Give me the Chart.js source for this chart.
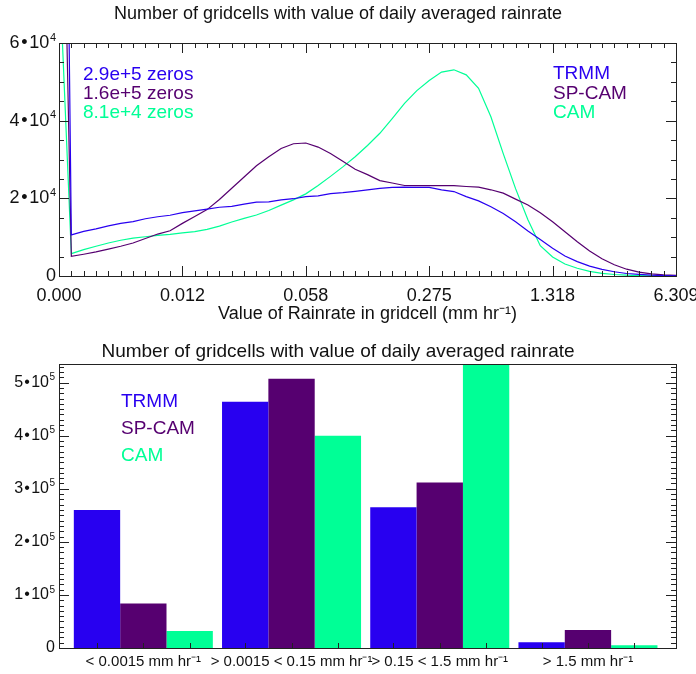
<!DOCTYPE html>
<html>
<head>
<meta charset="utf-8">
<title>Rainrate histograms</title>
<script src="https://cdn.jsdelivr.net/npm/chart.js@4.4.1/dist/chart.umd.min.js"></script>
<style>
  html, body { margin: 0; padding: 0; background: #fff; }
  #wrap { position: relative; width: 696px; height: 674px; }
  canvas { position: absolute; left: 0; }
  #histo { top: 0; }
  #bins { top: 330px; }
</style>
</head>
<body>
<div id="wrap">
  <canvas id="histo" width="696" height="330"></canvas>
  <canvas id="bins" width="696" height="344"></canvas>
</div>
<script>
// x tick labels of the histogram (log spaced bin edges, every 10th bin)
const binTickLabels = ['0.000', '0.012', '0.058', '0.275', '1.318', '6.309'];

// counts per bin; bin 0 holds the zero-rain cells
const trmmCurve = [290000,
  10600, 11500, 12150, 12900, 13550, 14000, 14750, 15250, 15650, 16300,
  16750, 17200, 17700, 17950, 18500, 19000, 19100, 19600, 19900, 20450,
  20650, 21200, 21450, 21800, 22200, 22550, 22800, 22900, 22800, 22800,
  22200, 21750, 20450, 19350, 17850, 16100, 13950, 11600, 9400, 7150,
  5150, 3700, 2550, 1700, 1100, 650, 400, 200, 100, 50];
const spcamCurve = [160000,
  5050, 5600, 6200, 6900, 7650, 8500, 9650, 10800, 11650, 13550,
  15300, 17100, 19700, 22600, 25500, 28400, 30700, 32850, 34050, 34250,
  33200, 31550, 29550, 27500, 26100, 24550, 23950, 23300, 23250, 23250,
  23300, 23250, 23050, 22900, 22200, 21350, 19800, 18300, 16300, 13950,
  11400, 8800, 6450, 4450, 2900, 1750, 1000, 550, 300, 150];
const camCurve = [81000,
  5750, 6800, 7650, 8500, 9200, 9750, 10100, 10450, 10700, 11100,
  11450, 12000, 12850, 13900, 14850, 15700, 16850, 18250, 19600, 21150,
  23300, 25650, 28100, 30700, 33600, 36750, 40550, 44450, 47750, 50350,
  52500, 53100, 51800, 48350, 41000, 31500, 22500, 14500, 7800, 4900,
  3100, 2000, 1200, 700, 380, 200, 100, 50, 20, 10];

// rainrate classes for the bar chart
const rateClasses = ['< 0.0015 mm hr⁻¹', '> 0.0015 < 0.15 mm hr⁻¹', '> 0.15 < 1.5 mm hr⁻¹', '> 1.5 mm hr⁻¹'];
const trmmBars = [260000, 464000, 265000, 11000];
const spcamBars = [84000, 507000, 312000, 34000];
const camBars = [32000, 400000, 535000, 5000];

const seriesNames = ['TRMM', 'SP-CAM', 'CAM'];
const seriesColors = ['#2800f0', '#560070', '#00ff96'];

// labelled y values, written as m•10^e
const yTickValues1 = [0, 20000, 40000, 60000];
const yTickValues2 = [0, 100000, 200000, 300000, 400000, 500000];

const FONT = '"Liberation Sans", Arial, Helvetica, sans-serif';
Chart.defaults.font.family = FONT;
Chart.defaults.color = '#111';

function zerosText(v) {
    let e = Math.floor(Math.log10(v));
    return (v / Math.pow(10, e)).toFixed(1) + 'e+' + e + ' zeros';
}

// frame with inward ticks on every side, like the old plotting package
const axisTicks = {
    id: 'axisTicks',
    afterDraw(chart, args, o) {
        const ctx = chart.ctx;
        const a = chart.chartArea;
        const x = chart.scales.x, y = chart.scales.y;
        ctx.save();
        ctx.strokeStyle = '#222';
        ctx.lineWidth = 1;
        ctx.beginPath();
        let n = Math.floor((y.max - y.min) / o.yMinor + 1e-6);
        for (let i = 0; i <= n; i++) {
            let v = y.min + i * o.yMinor;
            let py = Math.round(y.getPixelForValue(v)) + 0.5;
            let len = (i % o.yEvery === 0) ? o.major : o.minor;
            ctx.moveTo(a.left, py); ctx.lineTo(a.left + len, py);
            ctx.moveTo(a.right, py); ctx.lineTo(a.right - len, py);
        }
        if (o.xMinor) {
            let m = Math.round((x.max - x.min) / o.xMinor);
            for (let i = 0; i <= m; i++) {
                let px = Math.round(x.getPixelForValue(x.min + i * o.xMinor)) + 0.5;
                let len = (i % o.xEvery === 0) ? o.major : o.minor;
                ctx.moveTo(px, a.bottom); ctx.lineTo(px, a.bottom - len);
                ctx.moveTo(px, a.top); ctx.lineTo(px, a.top + len);
            }
        }
        if (o.barTicks) {
            chart.data.datasets.forEach(function(d, di) {
                chart.getDatasetMeta(di).data.forEach(function(bar) {
                    let px = Math.round(bar.x) + 0.5;
                    ctx.moveTo(px, a.bottom); ctx.lineTo(px, a.bottom - o.minor);
                });
            });
        }
        ctx.stroke();
        ctx.strokeRect(Math.round(a.left) + 0.5, Math.round(a.top) + 0.5,
            Math.round(a.width), Math.round(a.height));
        ctx.restore();
    }
};

// y labels as mantissa•10 with a raised exponent
const expLabels = {
    id: 'expLabels',
    afterDraw(chart, args, o) {
        const ctx = chart.ctx;
        const y = chart.scales.y;
        ctx.save();
        ctx.fillStyle = '#111';
        ctx.textBaseline = 'middle';
        ctx.textAlign = 'right';
        o.values.forEach(function(v) {
            let py = y.getPixelForValue(v);
            let xr = chart.chartArea.left - o.gap;
            ctx.font = o.size + 'px ' + FONT;
            if (v === 0) {
                ctx.fillText('0', xr, py);
                return;
            }
            let m = Math.round(v / Math.pow(10, o.exp));
            ctx.font = o.expSize + 'px ' + FONT;
            ctx.fillText(String(o.exp), xr, py - o.raise);
            xr -= ctx.measureText(String(o.exp)).width + 0.5;
            ctx.font = o.size + 'px ' + FONT;
            ctx.fillText('10', xr, py);
            xr -= ctx.measureText('10').width + o.dotPad;
            ctx.fillText('•', xr, py);
            xr -= ctx.measureText('•').width + o.dotPad;
            ctx.fillText(String(m), xr, py);
        });
        ctx.restore();
    }
};

// coloured text legends
const textLegend = {
    id: 'textLegend',
    afterDraw(chart, args, o) {
        const ctx = chart.ctx;
        ctx.save();
        ctx.font = o.size + 'px ' + FONT;
        ctx.textBaseline = 'middle';
        ctx.textAlign = 'left';
        o.blocks.forEach(function(b) {
            b.lines.forEach(function(t, i) {
                ctx.fillStyle = seriesColors[i];
                ctx.fillText(t, b.x, b.y + i * b.step);
            });
        });
        ctx.restore();
    }
};

function noPad(s) {
    s.paddingLeft = 0; s.paddingRight = 0;
    s.paddingTop = 0; s.paddingBottom = 0;
}

let curves = [trmmCurve, spcamCurve, camCurve];

new Chart(document.getElementById('histo').getContext('2d'), {
    type: 'line',
    data: {
        datasets: curves.map(function(c, i) {
            return {
                label: seriesNames[i],
                data: c.map(function(v, k) { return { x: k, y: v }; }),
                borderColor: seriesColors[i],
                borderWidth: 1.2,
                pointRadius: 0,
                tension: 0,
                fill: false
            };
        })
    },
    options: {
        responsive: false,
        animation: false,
        layout: { padding: { left: 0, right: 20, top: 0, bottom: 7 } },
        plugins: {
            legend: { display: false },
            tooltip: { enabled: false },
            title: {
                display: true,
                text: 'Number of gridcells with value of daily averaged rainrate',
                color: '#111',
                font: { size: 18, weight: 'normal' },
                padding: { top: 3, bottom: 18.4 }
            },
            axisTicks: { yMinor: 5000, yEvery: 4, xMinor: 1, xEvery: 10, major: 10, minor: 5 },
            expLabels: { values: yTickValues1, exp: 4, size: 18, expSize: 11, raise: 5.5, gap: 3, dotPad: 1.8 },
            textLegend: {
                size: 19,
                blocks: [
                    { x: 83, y: 75, step: 19, lines: [trmmCurve[0], spcamCurve[0], camCurve[0]].map(zerosText) },
                    { x: 553, y: 74, step: 19.5, lines: seriesNames }
                ]
            }
        },
        scales: {
            x: {
                type: 'linear',
                min: 0,
                max: 50,
                grid: { display: false, drawTicks: false },
                border: { display: false },
                afterFit: function(s) { noPad(s); s.height = 47; },
                ticks: {
                    stepSize: 10,
                    padding: 11,
                    font: { size: 18, lineHeight: 1 },
                    callback: function(v) { return binTickLabels[v / 10]; }
                },
                title: {
                    display: true,
                    text: 'Value of Rainrate in gridcell (mm hr⁻¹)',
                    font: { size: 18, lineHeight: 1 },
                    padding: 0
                }
            },
            y: {
                min: 0,
                max: 60000,
                grid: { display: false, drawTicks: false },
                border: { display: false },
                afterFit: function(s) { noPad(s); s.width = 59; },
                ticks: { display: false, stepSize: 20000 }
            }
        }
    },
    plugins: [axisTicks, expLabels, textLegend]
});

let barSeries = [trmmBars, spcamBars, camBars];

new Chart(document.getElementById('bins').getContext('2d'), {
    type: 'bar',
    data: {
        datasets: barSeries.map(function(b, i) {
            return {
                label: seriesNames[i],
                data: b.map(function(v, k) { return { x: k, y: v }; }),
                backgroundColor: seriesColors[i],
                borderWidth: 0,
                categoryPercentage: 0.938,
                barPercentage: 1.0
            };
        })
    },
    options: {
        responsive: false,
        animation: false,
        layout: { padding: { left: 0, right: 20, top: 0, bottom: 5 } },
        plugins: {
            legend: { display: false },
            tooltip: { enabled: false },
            title: {
                display: true,
                text: 'Number of gridcells with value of daily averaged rainrate',
                color: '#111',
                font: { size: 19, weight: 'normal' },
                padding: { top: 10, bottom: 1.2 }
            },
            axisTicks: { yMinor: 10000, yEvery: 10, major: 10, minor: 5, barTicks: true },
            expLabels: { values: yTickValues2, exp: 5, size: 16, expSize: 10, raise: 5, gap: 4, dotPad: 1.2 },
            textLegend: {
                size: 19,
                blocks: [{ x: 121, y: 72, step: 27, lines: seriesNames }]
            }
        },
        scales: {
            x: {
                type: 'linear',
                offset: false,
                min: -0.569,
                max: 3.594,
                grid: { display: false, drawTicks: false },
                border: { display: false },
                afterFit: function(s) { noPad(s); s.height = 21; },
                afterBuildTicks: function(s) {
                    s.ticks = rateClasses.map(function(c, i) { return { value: i }; });
                },
                ticks: {
                    padding: 6,
                    font: { size: 15, lineHeight: 1 },
                    callback: function(v) { return rateClasses[v]; }
                }
            },
            y: {
                min: 0,
                max: 535000,
                grid: { display: false, drawTicks: false },
                border: { display: false },
                afterFit: function(s) { noPad(s); s.width = 59; },
                ticks: { display: false, stepSize: 100000, includeBounds: false }
            }
        }
    },
    plugins: [axisTicks, expLabels, textLegend]
});
</script>
</body>
</html>
